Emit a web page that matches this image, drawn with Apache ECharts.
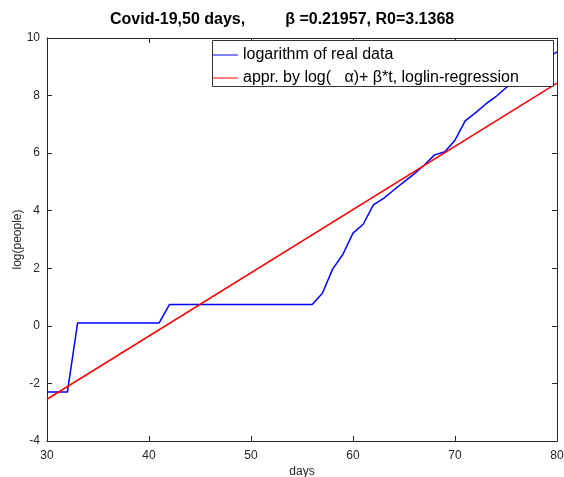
<!DOCTYPE html>
<html>
<head>
<meta charset="utf-8">
<script src="https://cdn.jsdelivr.net/npm/echarts@6/dist/echarts.min.js"></script>
<style>html,body{margin:0;padding:0;background:#fff;}#c{width:564px;height:477px;}</style>
</head>
<body>
<div id="c"></div>
<script>
const days = [30,31,32,33,34,35,36,37,38,39,40,41,42,43,44,45,46,47,48,49,50,51,52,53,54,55,56,57,58,59,60,61,62,63,64,65,66,67,68,69,70,71,72,73,74,75,76,77,78,79,80];
const logReal = [-2.30,-2.30,-2.30,0.10,0.10,0.10,0.10,0.10,0.10,0.10,0.10,0.10,0.74,0.74,0.74,0.74,0.74,0.74,0.74,0.74,0.74,0.74,0.74,0.74,0.74,0.74,0.74,1.13,1.97,2.48,3.22,3.53,4.20,4.43,4.72,5.00,5.28,5.59,5.94,6.05,6.45,7.12,7.40,7.70,7.96,8.27,8.55,8.82,9.06,9.30,9.52];
const regDays = [30, 80];
const regVals = [-2.55, 8.43];
const xTicks = [30,40,50,60,70,80];
const yTicks = [-4,-2,0,2,4,6,8,10];
const seriesNames = ['logarithm of real data', 'appr. by log(   \u03b1)+ \u03b2*t, loglin-regression'];

const chart = echarts.init(document.getElementById('c'), null, {renderer:'canvas'});
const FONT = 'Liberation Sans, Arial, Helvetica, sans-serif';
const axCol = '#262626';
const axisCommon = (show) => ({
  axisLine:{show:true, onZero:false, lineStyle:{color:axCol, width:1}},
  axisTick:{show:true, inside:true, length:5, lineStyle:{color:axCol}},
  splitLine:{show:false},
  axisLabel:{show:show, color:axCol, fontFamily:FONT, fontSize:12}
});
chart.setOption({
  animation:false,
  backgroundColor:'#fff',
  textStyle:{fontFamily:FONT},
  title:{
    text:'{a|Covid-19,50 days,}{g|}{b|\u03b2 =0.21957, R0=3.1368}',
    left:110, top:11, padding:0,
    textStyle:{rich:{
      a:{fontFamily:FONT, fontSize:16, fontWeight:'bold', color:'#000'},
      g:{width:40},
      b:{fontFamily:FONT, fontSize:16, fontWeight:'bold', color:'#000'}
    }}
  },
  grid:{left:47, right:7, top:38, bottom:36, containLabel:false, outerBoundsMode:'none'},
  xAxis:[
    Object.assign({type:'value', min:30, max:80, interval:10, position:'bottom',
      name:'days', nameLocation:'middle', nameGap:25, nameMoveOverlap:false,
      nameTextStyle:{color:axCol, fontFamily:FONT, fontSize:12}}, axisCommon(true),
      {axisLabel:{show:true, color:axCol, fontFamily:FONT, fontSize:12, margin:9}}),
    Object.assign({type:'value', min:30, max:80, interval:10, position:'top'}, axisCommon(false))
  ],
  yAxis:[
    Object.assign({type:'value', min:-4, max:10, interval:2, position:'left',
      name:'log(people)', nameLocation:'middle', nameGap:23, nameRotate:90, nameMoveOverlap:false,
      nameTextStyle:{color:axCol, fontFamily:FONT, fontSize:12}}, axisCommon(true),
      {axisLabel:{show:true, color:axCol, fontFamily:FONT, fontSize:12, margin:7}}),
    Object.assign({type:'value', min:-4, max:10, interval:2, position:'right'}, axisCommon(false))
  ],
  legend:{
    orient:'vertical', left:213, top:47, padding:0, z:100,
    itemWidth:25, itemHeight:16, itemGap:7,
    icon:'path://M0,0 L25,0 L25,1 L0,1 Z',
    textStyle:{fontFamily:FONT, fontSize:16, color:'#000'},
    data:[{name:seriesNames[0], itemStyle:{color:'#0000ff'}}, {name:seriesNames[1], itemStyle:{color:'#ff0000'}}]
  },
  graphic:[{
    type:'rect', z:50, shape:{x:212.5, y:40.5, width:341, height:46},
    style:{fill:'#fff', stroke:'#333', lineWidth:1}
  }],
  series:[
    {name:seriesNames[0], type:'line', symbol:'none', color:'#0000ff',
     lineStyle:{color:'#0000ff', width:1.5},
     data: days.map((d,i)=>[d, logReal[i]])},
    {name:seriesNames[1], type:'line', symbol:'none', color:'#ff0000',
     lineStyle:{color:'#ff0000', width:1.5},
     data: regDays.map((d,i)=>[d, regVals[i]])}
  ]
});
</script>
</body>
</html>
